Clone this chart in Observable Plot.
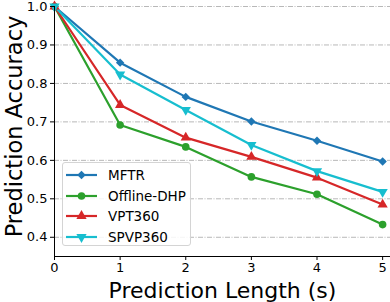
<!DOCTYPE html>
<html><head><meta charset="utf-8">
<script src="https://cdn.jsdelivr.net/npm/d3@7"></script>
<script src="https://cdn.jsdelivr.net/npm/@observablehq/plot@0.6"></script>
<style>
body{margin:0;background:#fff;font-family:"DejaVu Sans",sans-serif}
#wrap{position:relative;width:390px;height:302px}
#legend{position:absolute;left:62px;top:162px;width:129px;height:84px;border:1px solid #d4d4d4;border-radius:3px;background:rgba(255,255,255,0.85);box-sizing:border-box;padding-top:2px}
.item{display:flex;align-items:center;height:20.5px;font-size:13.5px;color:#000}
.item svg{margin-left:3px;margin-right:11px}
</style>
</head><body><div id="wrap"></div>
<script>
const lengths = [0, 1, 2, 3, 4, 5];
const mftr = [1.0, 0.854, 0.765, 0.701, 0.651, 0.597];
const offlineDHP = [1.0, 0.692, 0.635, 0.557, 0.512, 0.433];
const vpt360 = [1.0, 0.744, 0.659, 0.609, 0.555, 0.485];
const spvp360 = [1.0, 0.823, 0.731, 0.640, 0.572, 0.518];
const seriesNames = ["MFTR", "Offline-DHP", "VPT360", "SPVP360"];
const seriesValues = [mftr, offlineDHP, vpt360, spvp360];
const colors = ["#1f77b4", "#2ca02c", "#d62728", "#17becf"];
const symbols = ["diamond2", "circle", "triangle", "triangle"];
const rotations = [0, 0, 0, 180];
const xTicks = [0, 1, 2, 3, 4, 5];
const yTicks = [0.4, 0.5, 0.6, 0.7, 0.8, 0.9, 1.0];
const xLabel = "Prediction Length (s)";
const yLabel = "Prediction Accuracy";

const rows = seriesNames.flatMap((s, i) => lengths.map((x, j) => ({series: s, x, y: seriesValues[i][j], rot: rotations[i]})));

const chart = Plot.plot({
  width: 390, height: 302,
  marginLeft: 54, marginRight: 0, marginTop: 6, marginBottom: 46,
  style: {fontFamily: "DejaVu Sans, sans-serif", background: "#fff", overflow: "visible"},
  x: {domain: [0, 5.12]},
  y: {domain: [0.35, 1.0]},
  color: {domain: seriesNames, range: colors},
  symbol: {domain: seriesNames, range: symbols},
  marks: [
    Plot.ruleY(yTicks, {stroke: "#b0b0b0", strokeWidth: 0.9, strokeDasharray: "5,1.5,1,1.5"}),
    Plot.line(rows, {x: "x", y: "y", z: "series", stroke: "series", strokeWidth: 2.2}),
    Plot.dot(rows, {x: "x", y: "y", fill: "series", symbol: "series", rotate: "rot", r: 3.8, stroke: null}),
    Plot.ruleX([0], {stroke: "#000", strokeWidth: 1}),
    Plot.ruleY([0.35], {stroke: "#000", strokeWidth: 1}),
    Plot.axisX(xTicks, {tickSize: 4, tickPadding: 2, fontSize: 13, label: null, stroke: "#000", color: "#000"}),
    Plot.axisY(yTicks, {tickSize: 4, tickPadding: 3, fontSize: 13, label: null, tickFormat: d3.format(".1f"), stroke: "#000", color: "#000"}),
    Plot.text([xLabel], {frameAnchor: "bottom", dy: 41, fontSize: 22, fill: "#000", textAnchor: "middle", text: d => d}),
    Plot.text([yLabel], {frameAnchor: "left", dx: -40, dy: -5, rotate: -90, fontSize: 22.5, fill: "#000", textAnchor: "middle", text: d => d})
  ]
});
const wrap = document.getElementById("wrap");
wrap.appendChild(chart);

const legend = document.createElement("div");
legend.id = "legend";
seriesNames.forEach((s, i) => {
  const item = document.createElement("div");
  item.className = "item";
  const sym = d3.symbol(symbols[i] === "diamond2" ? d3.symbolDiamond2 : symbols[i] === "circle" ? d3.symbolCircle : d3.symbolTriangle, Math.PI * 3.8 * 3.8)();
  item.innerHTML = `<svg width="31" height="12"><line x1="0" x2="31" y1="6" y2="6" stroke="${colors[i]}" stroke-width="2.2"/><path d="${sym}" transform="translate(15.5,6) rotate(${rotations[i]})" fill="${colors[i]}"/></svg><span>${s}</span>`;
  legend.appendChild(item);
});
wrap.appendChild(legend);
</script>
</body></html>
